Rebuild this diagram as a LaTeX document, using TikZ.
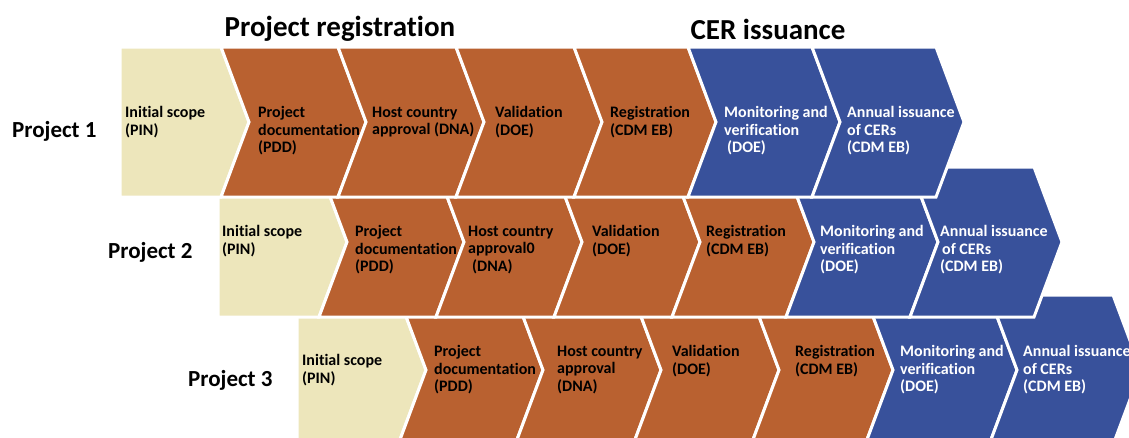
\documentclass[tikz,border=0pt]{standalone}
\usepackage{fontspec}
\setmainfont{Carlito}[Ligatures=CommonOff]
\usepackage{xcolor}
\usepackage{tikz}

\definecolor{paleyel}{RGB}{237,230,187}
\definecolor{rustorg}{RGB}{185,97,48}
\definecolor{cdmblue}{RGB}{56,81,155}

\tikzset{
  stagebox/.style={draw=white, line width=3pt, line join=miter},
  stagetext/.style={anchor=north west, inner sep=0pt, align=left,
    font=\bfseries\fontsize{16}{17.5}\selectfont, execute at begin node=\strut},
  projlabel/.style={anchor=west, inner sep=0pt, font=\bfseries\fontsize{23}{27}\selectfont},
  phasetitle/.style={inner sep=0pt, font=\bfseries\fontsize{29}{34}\selectfont}
}

% chevron: left x, centre y, width, colour
\newcommand{\chevron}[4]{%
  \filldraw[stagebox, fill=#4] (#1,#2-75) -- ++(#3,0) -- ++(28,75) -- ++(-28,75)
    -- ++(-#3,0) -- ++(28,-75) -- cycle;}
% first stage of a row has a flat left side
\newcommand{\firstbox}[4]{%
  \filldraw[stagebox, fill=#4] (#1,#2-75) -- ++(#3,0) -- ++(28,75) -- ++(-28,75)
    -- ++(-#3,0) -- cycle;}

\begin{document}
\begin{tikzpicture}[x=1pt,y=-1pt]
    \clip (0,0) rectangle (1129,437);
    % draw rows from the bottom one up
    \foreach \rx/\ry in {297/370, 218/242, 120/122} {
      \firstbox{\rx}{\ry}{101}{paleyel}
      \foreach \a/\w/\c in {101/117/rustorg, 218/118/rustorg, 336/118/rustorg,
                            454/114/rustorg, 568/124/cdmblue, 692/124/cdmblue}
        {\chevron{\rx+\a}{\ry}{\w}{\c}}
    }
    % phase titles
    \node[phasetitle] (regtitle) at (340,29) {Project registration};
    \node[phasetitle] (certitle) at (768,29) {CER issuance};
    % project 1
    \node[projlabel] (proj1) at (12,131) {Project 1};
    \node[stagetext] (p1pin) at (125,106.5) {Initial scope\\(PIN)};
    \node[stagetext] (p1pdd) at (258,106.5) {Project\\documentation\\(PDD)};
    \node[stagetext] (p1dna) at (372,106.5) {Host country\\approval (DNA)};
    \node[stagetext] (p1val) at (495,106.5) {Validation\\(DOE)};
    \node[stagetext] (p1reg) at (610,106.5) {Registration\\(CDM EB)};
    \node[stagetext, white] (p1mon) at (724,106.5) {Monitoring and\\verification\\\hspace*{3pt}(DOE)};
    \node[stagetext, white] (p1ann) at (847,106.5) {Annual issuance\\of CERs\\(CDM EB)};
    % project 2
    \node[projlabel] (proj2) at (108,252) {Project 2};
    \node[stagetext] (p2pin) at (222,225.5) {Initial scope\\(PIN)};
    \node[stagetext] (p2pdd) at (355,225.5) {Project\\documentation\\(PDD)};
    \node[stagetext] (p2dna) at (468,225.5) {Host country\\approval0\\\hspace*{4pt}(DNA)};
    \node[stagetext] (p2val) at (592,225.5) {Validation\\(DOE)};
    \node[stagetext] (p2reg) at (706,225.5) {Registration\\(CDM EB)};
    \node[stagetext, white] (p2mon) at (820,225.5) {Monitoring and\\verification\\(DOE)};
    \node[stagetext, white] (p2ann) at (940,225.5) {Annual issuance\\\hspace*{2pt}of CERs\\(CDM EB)};
    % project 3
    \node[projlabel] (proj3) at (188,380) {Project 3};
    \node[stagetext] (p3pin) at (302,354.5) {Initial scope\\(PIN)};
    \node[stagetext] (p3pdd) at (434,345.5) {Project\\documentation\\(PDD)};
    \node[stagetext] (p3dna) at (557,345.5) {Host country\\approval\\(DNA)};
    \node[stagetext] (p3val) at (672,345.5) {Validation\\(DOE)};
    \node[stagetext] (p3reg) at (795,345.5) {Registration\\(CDM EB)};
    \node[stagetext, white] (p3mon) at (900,345.5) {Monitoring and\\verification\\(DOE)};
    \node[stagetext, white] (p3ann) at (1023,345.5) {Annual issuance\\of CERs\\(CDM EB)};
\end{tikzpicture}
\end{document}
